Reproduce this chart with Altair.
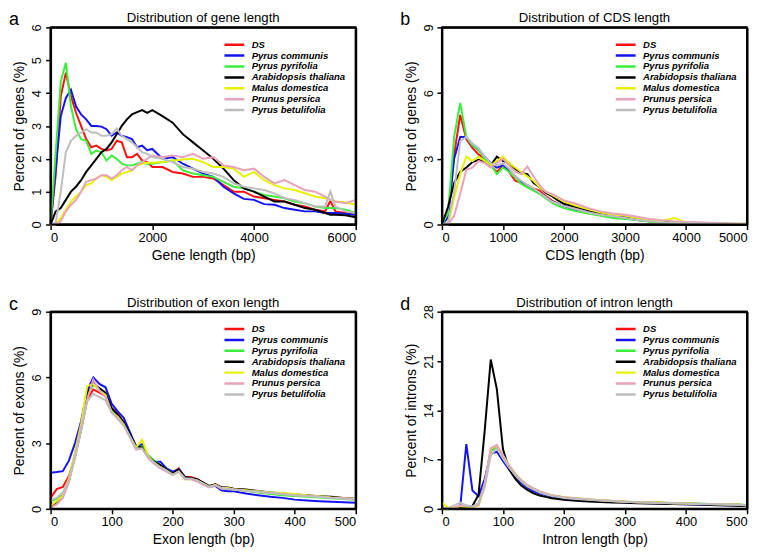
import altair as alt
import pandas as pd

species = ["DS", "Pyrus communis", "Pyrus pyrifolia", "Arabidopsis thaliana",
           "Malus domestica", "Prunus persica", "Pyrus betulifolia"]
colors = ["#FF1010", "#1414F0", "#3CEE3C", "#000000", "#E6F200", "#E8A2BC", "#BEBEBE"]

# ---------------- panel a: gene length ----------------
gene_x = [0, 100, 200, 300, 400, 500, 600, 700, 800, 900, 1000, 1100, 1200, 1300, 1400,
          1500, 1600, 1700, 1800, 1900, 2000, 2200, 2400, 2600, 2800, 3000, 3200, 3400,
          3600, 3800, 4000, 4200, 4400, 4600, 4800, 5000, 5200, 5400, 5500, 5600, 5800, 6000]
gene_DS = [0, 1.5, 3.9, 4.62, 3.9, 3.4, 3.0, 2.6, 2.35, 2.4, 2.3, 2.25, 2.3, 2.55, 2.5, 2.05, 2.05,
           2.15, 1.95, 1.9, 1.75, 1.75, 1.6, 1.55, 1.45, 1.45, 1.4, 1.2, 1.0, 1.0, 0.85, 0.8, 0.75,
           0.7, 0.6, 0.55, 0.45, 0.4, 0.72, 0.4, 0.35, 0.3]
gene_communis = [0, 1.7, 3.3, 3.85, 4.1, 3.6, 3.35, 3.2, 3.0, 3.0, 2.98, 2.9, 2.7, 2.8, 2.7, 2.66,
                 2.6, 2.35, 2.4, 2.26, 2.3, 2.0, 2.05, 1.85, 1.7, 1.55, 1.45, 1.15, 0.95, 0.78,
                 0.75, 0.62, 0.6, 0.5, 0.45, 0.4, 0.4, 0.35, 0.35, 0.35, 0.33, 0.3]
gene_pyrifolia = [0, 2.2, 4.35, 4.92, 3.6, 2.9, 2.6, 2.55, 2.15, 2.25, 2.2, 1.95, 2.1, 2.0, 1.85,
                  1.8, 1.8, 1.85, 1.9, 1.85, 1.85, 1.9, 1.95, 1.65, 1.55, 1.5, 1.45, 1.3, 1.15,
                  1.1, 1.0, 0.9, 0.85, 0.8, 0.7, 0.65, 0.55, 0.5, 0.5, 0.5, 0.45, 0.35]
gene_thaliana = [0, 0.4, 0.5, 0.75, 1.0, 1.15, 1.35, 1.6, 1.8, 2.0, 2.2, 2.3, 2.5, 2.75, 3.0, 3.2,
                 3.35, 3.42, 3.48, 3.4, 3.48, 3.3, 3.1, 2.75, 2.5, 2.25, 2.0, 1.7, 1.35, 1.1, 1.0,
                 0.85, 0.7, 0.7, 0.6, 0.5, 0.45, 0.35, 0.3, 0.3, 0.28, 0.22]
gene_domestica = [0, 0, 0.2, 0.45, 0.7, 0.85, 1.0, 1.2, 1.25, 1.4, 1.5, 1.45, 1.35, 1.45, 1.55,
                  1.6, 1.65, 1.8, 1.85, 1.88, 1.88, 1.9, 1.95, 1.98, 2.0, 1.9, 1.75, 1.75, 1.7,
                  1.45, 1.6, 1.35, 1.2, 1.1, 1.05, 0.95, 0.85, 0.8, 0.75, 0.7, 0.68, 0.6]
gene_persica = [0, 0, 0.1, 0.4, 0.6, 0.75, 1.0, 1.3, 1.35, 1.4, 1.5, 1.5, 1.4, 1.5, 1.65, 1.75,
                1.65, 1.8, 1.9, 2.0, 2.1, 2.05, 2.1, 2.05, 2.15, 2.0, 2.05, 1.8, 1.75, 1.65, 1.7,
                1.45, 1.25, 1.35, 1.2, 1.05, 1.0, 0.85, 0.75, 0.7, 0.65, 0.75]
gene_betulifolia = [0, 0.05, 1.0, 2.2, 2.55, 2.7, 2.8, 2.9, 2.8, 2.8, 2.7, 2.7, 2.75, 2.92, 2.7,
                    2.6, 2.5, 2.35, 2.2, 2.15, 2.05, 2.0, 1.9, 1.75, 1.7, 1.6, 1.55, 1.45, 1.25,
                    1.15, 1.1, 1.05, 0.95, 0.8, 0.75, 0.65, 0.55, 0.55, 1.0, 0.55, 0.4, 0.35]

# ---------------- panel b: CDS length ----------------
cds_x = [0, 100, 200, 300, 400, 500, 600, 700, 800, 900, 1000, 1100, 1200, 1300, 1400, 1500,
         1600, 1700, 1800, 1900, 2000, 2200, 2400, 2600, 2800, 3000, 3200, 3400, 3600, 3800,
         4000, 4200, 4400, 4600, 4800, 5000]
cds_DS = [0, 0.4, 3.2, 5.0, 3.9, 3.5, 3.2, 3.0, 2.7, 2.4, 2.7, 2.4, 2.0, 1.9, 1.75, 1.65, 1.55,
          1.3, 1.1, 0.95, 0.85, 0.7, 0.55, 0.45, 0.35, 0.3, 0.2, 0.15, 0.1, 0.08, 0.05, 0.05,
          0.03, 0.02, 0.02, 0.02]
cds_communis = [0, 0.3, 3.0, 4.0, 4.0, 3.6, 3.4, 3.1, 2.8, 2.6, 2.7, 2.5, 2.2, 1.95, 1.8, 1.6,
                1.45, 1.25, 1.05, 0.95, 0.85, 0.65, 0.55, 0.45, 0.35, 0.3, 0.2, 0.15, 0.1, 0.08,
                0.05, 0.04, 0.03, 0.02, 0.02, 0.02]
cds_pyrifolia = [0, 0.5, 4.0, 5.55, 4.0, 3.6, 3.4, 3.0, 2.75, 2.3, 2.6, 2.4, 2.15, 1.85, 1.7,
                 1.55, 1.4, 1.2, 1.0, 0.85, 0.75, 0.6, 0.5, 0.4, 0.3, 0.25, 0.2, 0.12, 0.1,
                 0.07, 0.05, 0.04, 0.03, 0.02, 0.02, 0.02]
cds_thaliana = [0, 0.8, 1.9, 2.4, 2.6, 2.85, 2.95, 2.85, 2.7, 3.1, 2.9, 2.8, 2.55, 2.35, 2.3,
                1.9, 1.7, 1.45, 1.3, 1.1, 0.95, 0.8, 0.65, 0.5, 0.4, 0.35, 0.25, 0.2, 0.12, 0.1,
                0.08, 0.05, 0.04, 0.03, 0.02, 0.02]
cds_domestica = [0, 0, 1.2, 2.3, 3.1, 2.9, 3.1, 2.9, 2.7, 2.9, 3.1, 2.8, 2.6, 2.4, 2.2, 2.0, 1.7,
                 1.5, 1.35, 1.2, 1.05, 0.85, 0.7, 0.55, 0.45, 0.4, 0.3, 0.2, 0.15, 0.3, 0.1,
                 0.07, 0.05, 0.05, 0.04, 0.03]
cds_persica = [0, 0, 0.4, 1.4, 2.5, 2.6, 2.9, 2.8, 2.6, 2.8, 3.0, 2.7, 2.4, 2.3, 2.65, 2.2, 1.8,
               1.5, 1.4, 1.25, 1.1, 0.95, 0.75, 0.6, 0.5, 0.45, 0.35, 0.25, 0.2, 0.15, 0.12,
               0.1, 0.08, 0.06, 0.05, 0.04]
cds_betulifolia = [0, 0.1, 1.5, 3.8, 4.0, 3.7, 3.5, 3.1, 2.8, 2.7, 2.8, 2.55, 2.2, 2.0, 1.8,
                   1.65, 1.45, 1.25, 1.05, 0.95, 0.85, 0.7, 0.55, 0.45, 0.38, 0.3, 0.22, 0.15,
                   0.1, 0.08, 0.06, 0.05, 0.04, 0.03, 0.02, 0.02]

# ---------------- panel c: exon length ----------------
exon_x = [0, 10, 20, 30, 40, 50, 60, 70, 80, 90, 100, 110, 120, 130, 140, 150, 160, 170, 180,
          190, 200, 210, 220, 230, 240, 250, 260, 270, 280, 290, 300, 320, 340, 360, 380, 400,
          420, 440, 460, 480, 500]
exon_DS = [0.5, 0.9, 1.0, 1.5, 2.4, 3.6, 5.0, 5.45, 5.3, 5.15, 4.6, 4.35, 3.95, 3.4, 2.85, 2.8,
           2.4, 2.1, 1.95, 1.75, 1.65, 1.85, 1.45, 1.45, 1.35, 1.2, 1.0, 1.12, 0.98, 0.95, 0.9,
           0.85, 0.78, 0.72, 0.68, 0.62, 0.58, 0.55, 0.52, 0.48, 0.45]
exon_communis = [1.65, 1.68, 1.72, 2.2, 3.0, 4.0, 5.4, 6.0, 5.7, 5.55, 4.8, 4.45, 4.15, 3.5,
                 2.85, 2.95, 2.4, 2.15, 2.15, 1.85, 1.7, 1.8, 1.45, 1.4, 1.3, 1.15, 1.0, 1.05,
                 0.85, 0.8, 0.8, 0.7, 0.62, 0.55, 0.5, 0.42, 0.38, 0.35, 0.32, 0.3, 0.28]
exon_pyrifolia = [0.35, 0.45, 0.7, 1.3, 2.4, 3.7, 5.2, 5.65, 5.5, 5.2, 4.5, 4.25, 3.9, 3.35, 2.8,
                  2.85, 2.45, 2.2, 2.0, 1.8, 1.6, 1.75, 1.4, 1.4, 1.3, 1.15, 1.0, 1.1, 0.95,
                  0.93, 0.88, 0.82, 0.75, 0.68, 0.62, 0.58, 0.55, 0.52, 0.48, 0.45, 0.42]
exon_thaliana = [0.1, 0.3, 0.6, 1.3, 2.5, 3.8, 5.3, 5.75, 5.5, 5.3, 4.6, 4.3, 3.95, 3.4, 2.85,
                 2.8, 2.4, 2.15, 2.0, 1.8, 1.6, 1.8, 1.45, 1.4, 1.35, 1.2, 1.05, 1.12, 0.98,
                 0.98, 0.92, 0.88, 0.82, 0.75, 0.7, 0.65, 0.62, 0.58, 0.55, 0.5, 0.45]
exon_domestica = [0.15, 0.35, 0.6, 1.4, 2.6, 3.9, 5.6, 5.7, 5.4, 5.2, 4.4, 4.2, 3.85, 3.3, 2.8,
                  3.15, 2.4, 2.1, 1.9, 1.75, 1.55, 1.7, 1.35, 1.35, 1.3, 1.15, 1.0, 1.1, 0.95,
                  0.95, 0.9, 0.85, 0.8, 0.75, 0.72, 0.68, 0.62, 0.58, 0.52, 0.48, 0.45]
exon_persica = [0.05, 0.2, 0.5, 1.2, 2.4, 3.7, 5.0, 5.9, 5.4, 5.1, 4.4, 4.15, 3.8, 3.25, 2.7,
                2.75, 2.3, 2.05, 1.85, 1.7, 1.55, 1.7, 1.35, 1.35, 1.25, 1.1, 0.98, 1.08, 0.92,
                0.92, 0.88, 0.82, 0.78, 0.72, 0.68, 0.62, 0.6, 0.55, 0.5, 0.48, 0.45]
exon_betulifolia = [0.4, 0.5, 0.75, 1.3, 2.3, 3.6, 4.9, 5.25, 5.1, 4.95, 4.4, 4.1, 3.8, 3.3,
                    2.75, 2.75, 2.35, 2.1, 1.9, 1.75, 1.55, 1.7, 1.4, 1.38, 1.3, 1.15, 1.0, 1.08,
                    0.95, 0.92, 0.88, 0.82, 0.78, 0.72, 0.68, 0.62, 0.58, 0.55, 0.5, 0.46, 0.43]

# ---------------- panel d: intron length ----------------
intron_x = [0, 10, 20, 30, 40, 50, 60, 70, 80, 90, 100, 110, 120, 130, 140, 150, 160, 170, 180,
            190, 200, 220, 240, 260, 280, 300, 320, 340, 360, 380, 400, 420, 440, 460, 480, 500]
intron_DS = [0.2, 0, 0.1, 0.4, 0.3, 0.3, 0.6, 3.5, 8.3, 8.9, 7.3, 6.0, 4.9, 4.0, 3.3, 2.8, 2.4,
             2.1, 1.9, 1.75, 1.6, 1.45, 1.3, 1.2, 1.1, 1.0, 0.95, 0.9, 0.85, 0.8, 0.75, 0.7,
             0.68, 0.65, 0.6, 0.5]
intron_communis = [0, 0, 0, 0.3, 9.2, 2.6, 1.8, 4.2, 7.8, 8.1, 6.8, 5.6, 4.6, 3.7, 3.0, 2.5,
                   2.2, 1.95, 1.75, 1.6, 1.5, 1.3, 1.18, 1.08, 1.0, 0.92, 0.85, 0.8, 0.75, 0.7,
                   0.65, 0.6, 0.55, 0.52, 0.5, 0.4]
intron_pyrifolia = [0.1, 0, 0.1, 0.4, 0.3, 0.3, 0.6, 3.4, 8.2, 8.7, 7.2, 5.9, 4.8, 3.95, 3.3,
                    2.8, 2.4, 2.1, 1.9, 1.75, 1.6, 1.45, 1.3, 1.2, 1.1, 1.02, 0.97, 0.92, 0.88,
                    0.82, 0.78, 0.75, 0.7, 0.68, 0.65, 0.55]
intron_thaliana = [0, 0, 0.1, 0.3, 0.3, 0.4, 2.0, 11.0, 21.2, 17.0, 8.5, 5.6, 4.3, 3.3, 2.7, 2.2,
                   1.9, 1.7, 1.5, 1.4, 1.3, 1.15, 1.05, 0.97, 0.9, 0.85, 0.8, 0.75, 0.72, 0.68,
                   0.65, 0.6, 0.55, 0.5, 0.45, 0.35]
intron_domestica = [0.9, 0.2, 0.1, 0.4, 0.3, 0.3, 0.5, 3.2, 8.5, 9.0, 7.6, 6.2, 5.0, 4.1, 3.4,
                    2.9, 2.5, 2.2, 1.95, 1.8, 1.65, 1.5, 1.35, 1.22, 1.12, 1.02, 0.95, 0.9, 0.85,
                    0.8, 0.75, 0.7, 0.68, 0.65, 0.6, 0.5]
intron_persica = [0, 0, 0.1, 0.5, 0.4, 0.3, 0.6, 3.6, 8.6, 9.1, 7.6, 6.2, 5.0, 4.1, 3.4, 2.9,
                  2.5, 2.2, 1.95, 1.8, 1.65, 1.5, 1.35, 1.22, 1.12, 1.02, 0.95, 0.9, 0.85, 0.8,
                  0.75, 0.72, 0.68, 0.65, 0.6, 0.5]
intron_betulifolia = [0, 0.1, 0.5, 0.9, 0.5, 0.3, 0.8, 3.0, 7.6, 8.6, 7.2, 5.9, 4.8, 3.9, 3.2,
                      2.75, 2.35, 2.05, 1.85, 1.7, 1.55, 1.4, 1.28, 1.18, 1.08, 1.0, 0.93, 0.88,
                      0.82, 0.78, 0.74, 0.7, 0.66, 0.62, 0.58, 0.48]

FONT = "Liberation Sans"
W, H = 308, 199


def long_table(xs, series):
    rows = []
    for i, (name, vals) in enumerate(zip(species, series)):
        for x, v in zip(xs, vals):
            rows.append({"x": x, "y": v, "species": name, "k": i})
    return pd.DataFrame(rows)


def panel(xs, series, xmax, ymax, xticks, yticks, title, xtitle, ytitle, letter):
    df = long_table(xs, series)
    xsc = alt.Scale(domain=[0, xmax], nice=False, zero=True)
    ysc = alt.Scale(domain=[0, ymax], nice=False, zero=True)
    xax = alt.Axis(values=xticks, format="d", title=xtitle, labelOverlap=False,
                   domain=True, domainColor="black", domainWidth=2)
    yax = alt.Axis(values=yticks, format="d", title=ytitle, labelAngle=270,
                   labelAlign="center", labelBaseline="bottom", labelOverlap=False,
                   domain=True, domainColor="black", domainWidth=2)
    xtop = alt.Axis(orient="top", labels=False, ticks=False, title="", grid=False,
                    domain=True, domainColor="black", domainWidth=2)
    yright = alt.Axis(orient="right", labels=False, ticks=False, title="", grid=False,
                      domain=True, domainColor="black", domainWidth=2)
    lines = alt.Chart(df).mark_line(strokeWidth=2).encode(
        x=alt.X("x:Q", scale=xsc, axis=xax),
        y=alt.Y("y:Q", scale=ysc, axis=yax),
        color=alt.Color("species:N", sort=species,
                        scale=alt.Scale(domain=species, range=colors),
                        legend=alt.Legend(orient="none", legendX=174, legendY=12, title=None,
                                          symbolType="stroke", symbolSize=400,
                                          symbolStrokeWidth=2.5, labelFontSize=9.6,
                                          labelFontWeight="bold", labelFontStyle="italic",
                                          labelFont=FONT, labelOffset=6, rowPadding=0,
                                          clipHeight=11, padding=0)),
        detail="k:N",
    )
    edges = pd.DataFrame({
        "x1": [0, 0, 0, xmax], "x2": [xmax, xmax, 0, xmax],
        "y1": [0, ymax, 0, 0], "y2": [0, ymax, ymax, ymax],
    })
    frame = alt.Chart(edges).mark_rule(color="#000000", strokeWidth=2).encode(
        x=alt.X("x1:Q", scale=xsc, axis=xtop), x2="x2:Q",
        y=alt.Y("y1:Q", scale=ysc, axis=yright), y2="y2:Q",
    )
    lab = alt.Chart(pd.DataFrame({"t": [letter]})).mark_text(
        font=FONT, fontSize=18, align="left", baseline="alphabetic", color="black"
    ).encode(text="t:N", x=alt.value(-42), y=alt.value(-2))
    ttl = alt.Chart(pd.DataFrame({"t": [title]})).mark_text(
        font=FONT, fontSize=13.3, align="center", baseline="alphabetic", color="black"
    ).encode(text="t:N", x=alt.value(W / 2), y=alt.value(-5))
    return alt.layer(lines, frame, lab, ttl).resolve_axis(
        x="independent", y="independent"
    ).properties(width=W, height=H)


pa = panel(gene_x, [gene_DS, gene_communis, gene_pyrifolia, gene_thaliana, gene_domestica,
                    gene_persica, gene_betulifolia],
           6000, 6, [0, 2000, 4000, 6000], [0, 1, 2, 3, 4, 5, 6],
           "Distribution of gene length", "Gene length (bp)", "Percent of genes (%)", "a")
pb = panel(cds_x, [cds_DS, cds_communis, cds_pyrifolia, cds_thaliana, cds_domestica,
                   cds_persica, cds_betulifolia],
           5000, 9, [0, 1000, 2000, 3000, 4000, 5000], [0, 3, 6, 9],
           "Distribution of CDS length", "CDS length (bp)", "Percent of genes (%)", "b")
pc = panel(exon_x, [exon_DS, exon_communis, exon_pyrifolia, exon_thaliana, exon_domestica,
                    exon_persica, exon_betulifolia],
           500, 9, [0, 100, 200, 300, 400, 500], [0, 3, 6, 9],
           "Distribution of exon length", "Exon length (bp)", "Percent of exons (%)", "c")
pd_ = panel(intron_x, [intron_DS, intron_communis, intron_pyrifolia, intron_thaliana,
                       intron_domestica, intron_persica, intron_betulifolia],
            500, 28, [0, 100, 200, 300, 400, 500], [0, 7, 14, 21, 28],
            "Distribution of intron length", "Intron length (bp)", "Percent of introns (%)", "d")

chart = alt.concat(pa, pb, pc, pd_, columns=2,
                   spacing=alt.RowColnumber(row=32, column=39)).resolve_scale(
    color="independent"
).properties(
    padding={"left": 0, "top": 0, "right": 0, "bottom": 0}
).configure(font=FONT).configure_view(
    stroke="black", strokeWidth=1.8
).configure_axis(
    grid=False,
    tickColor="black", tickSize=5, tickWidth=1.5, labelOverlap=False,
    labelFont=FONT, labelFontSize=13, labelColor="black", labelPadding=2,
    titleFont=FONT, titleFontSize=14, titleFontWeight="normal", titleColor="black",
    titlePadding=4
)

chart.save("out.html", embed_options={"renderer": "svg", "actions": False})
